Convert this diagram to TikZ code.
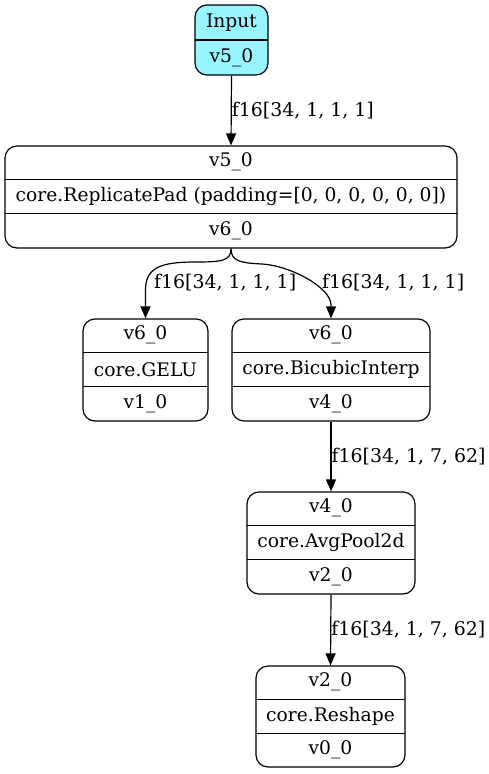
\documentclass[tikz,border=0pt]{standalone}
\usepackage{fontspec}
\setmainfont{DejaVu Serif}
\usetikzlibrary{arrows.meta}
\definecolor{inputfill}{RGB}{152,245,255}
\begin{document}
\begin{tikzpicture}[x=1pt,y=-1pt,
  rec/.style={draw,line width=1.2pt,rounded corners=12pt,inner sep=0pt},
  txt/.style={font=\fontsize{18.7}{21}\selectfont,inner sep=0pt},
  lbl/.style={font=\fontsize{18.9}{22}\selectfont,inner sep=0pt,anchor=west},
  divider/.style={line width=1.2pt},
  edge/.style={line width=1.2pt,-{Triangle[length=12pt,width=10pt]}}]
\useasboundingbox (0,0) rectangle (489,774);
% Input
\node[rec,fill=inputfill,minimum width=73pt,minimum height=70pt] (in) at (231.5,40) {};
\draw[divider] (195,40) -- (268,40);
\node[txt] (inA) at (231.5,23) {Input};
\node[txt] (inB) at (231.5,58) {v5\_0};
% ReplicatePad
\node[rec,minimum width=452pt,minimum height=102pt] (rp) at (231,197) {};
\draw[divider] (5,179.5) -- (457,179.5);
\draw[divider] (5,213.5) -- (457,213.5);
\node[txt] (rpA) at (231,162) {v5\_0};
\node[txt] (rpB) at (231,196.5) {core.ReplicatePad (padding=[0, 0, 0, 0, 0, 0])};
\node[txt] (rpC) at (231,230.5) {v6\_0};
% GELU
\node[rec,minimum width=125pt,minimum height=102pt] (ge) at (145.5,370) {};
\draw[divider] (83,352.5) -- (208,352.5);
\draw[divider] (83,386.5) -- (208,386.5);
\node[txt] (geA) at (145.5,335) {v6\_0};
\node[txt] (geB) at (145.5,369.5) {core.GELU};
\node[txt] (geC) at (145.5,403.5) {v1\_0};
% Bicubic
\node[rec,minimum width=198pt,minimum height=102pt] (bi) at (331,370) {};
\draw[divider] (232,352.5) -- (430,352.5);
\draw[divider] (232,386.5) -- (430,386.5);
\node[txt] (biA) at (331,335) {v6\_0};
\node[txt] (biB) at (331,369.5) {core.BicubicInterp};
\node[txt] (biC) at (331,403.5) {v4\_0};
% AvgPool
\node[rec,minimum width=168pt,minimum height=102pt] (ap) at (331,543) {};
\draw[divider] (247,525.5) -- (415,525.5);
\draw[divider] (247,559.5) -- (415,559.5);
\node[txt] (apA) at (331,508) {v4\_0};
\node[txt] (apB) at (331,542.5) {core.AvgPool2d};
\node[txt] (apC) at (331,576.5) {v2\_0};
% Reshape
\node[rec,minimum width=149pt,minimum height=101pt] (rs) at (330.5,716.5) {};
\draw[divider] (256,699.5) -- (405,699.5);
\draw[divider] (256,733.5) -- (405,733.5);
\node[txt] (rsA) at (330.5,682) {v2\_0};
\node[txt] (rsB) at (330.5,716) {core.Reshape};
\node[txt] (rsC) at (330.5,750) {v0\_0};
% edges
\draw[edge] (in.south) -- (rp.north) node[lbl,pos=0.5] (l1) {f16[34, 1, 1, 1]};
\draw[edge] (rp.south) .. controls (231,261) and (222,262) .. (195,262) .. controls (160,262) and (145.5,268) .. (145.5,290) -- (ge.north);
\node[lbl] (l2) at (154,283) {f16[34, 1, 1, 1]};
\draw[edge] (rp.south) .. controls (231,261) and (240,263) .. (262,264) .. controls (292,266) and (331,288) .. (331,305) -- (bi.north);
\node[lbl] (l3) at (322,283) {f16[34, 1, 1, 1]};
\draw[edge] (bi.south) -- (ap.north) node[lbl,pos=0.5] (l4) {f16[34, 1, 7, 62]};
\draw[edge] (ap.south) -- (rs.north) node[lbl,pos=0.5] (l5) {f16[34, 1, 7, 62]};
\end{tikzpicture}
\end{document}
